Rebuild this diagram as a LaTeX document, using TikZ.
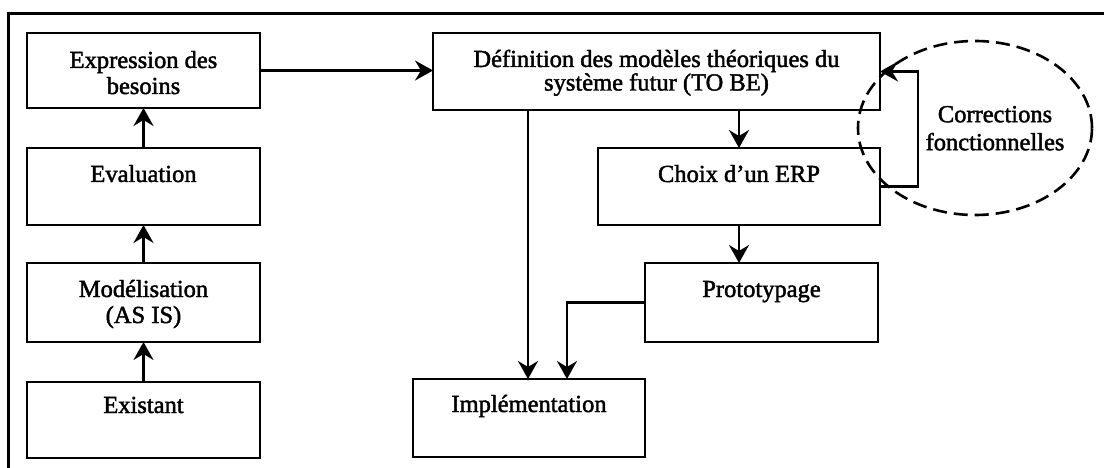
\documentclass[tikz,border=0pt]{standalone}
\usepackage{fontspec}
\setmainfont{Liberation Serif}[FakeBold=1.8]
\usetikzlibrary{arrows.meta,shapes.geometric}
\newcommand\bxt[4]{\parbox[c][#2pt][t]{#1pt}{\centering\rule{0pt}{#3pt}#4\par}}
\begin{document}
\begin{tikzpicture}[x=1pt,y=-1pt,
  box/.style={draw,line width=2.8pt,inner sep=0pt,outer sep=0pt,anchor=north west,
    font=\fontsize{24.5}{26}\selectfont},
  arr/.style={line width=2.3pt,-{Stealth[length=18pt,width=20pt,inset=6pt]}},
  lbl/.style={inner sep=0pt,align=center,font=\fontsize{24.5}{28}\selectfont},
  ]
\useasboundingbox (0,0) rectangle (1104,468);
% frame
\draw[line width=3pt] (8,475) -- (8,14) -- (1110,14);
% left column
\node[box] (exp)  at (27,33)  {\bxt{233}{75}{35}{Expression des\\besoins}};
\node[box] (eval) at (27,148) {\bxt{233}{77}{34}{Evaluation}};
\node[box] (mod)  at (27,263) {\bxt{233}{79}{34}{Modélisation\\(AS IS)}};
\node[box] (exi)  at (27,382) {\bxt{233}{76}{31}{Existant}};
% right part
\node[box,font=\fontsize{24.5}{23.5}\selectfont] (def) at (433,33)
  {\bxt{447}{77}{34}{Définition des modèles théoriques du\\système futur (TO BE)}};
\node[box] (choix) at (598,148) {\bxt{282}{77}{34}{Choix d’un ERP}};
\node[box] (proto) at (645,263) {\bxt{233}{79}{34}{Prototypage}};
\node[box] (impl)  at (413,379) {\bxt{232}{78}{33}{Implémentation}};
% dashed ellipse
\node[ellipse,draw,line width=2.6pt,dash pattern=on 14pt off 7pt,
  minimum width=234pt,minimum height=174pt,inner sep=0pt] (ell) at (975,128) {};
\node[lbl,anchor=north] (corr) at (995,100) {\rule{0pt}{22pt}Corrections\\fonctionnelles};
% connectors
\draw[arr] (exi.north) -- (mod.south);
\draw[arr] (mod.north) -- (eval.south);
\draw[arr] (eval.north) -- (exp.south);
\draw[arr] (exp.east) -- (exp.east -| def.west);
\draw[arr] ([xshift=95pt]def.south west) -- ([xshift=115pt]impl.north west);
\draw[arr] (def.south -| choix.north) -- (choix.north);
\draw[arr] (choix.south) -- (choix.south |- proto.north);
\draw[arr] (proto.west) -| ([xshift=154pt]impl.north west);
\draw[arr] (choix.east) -- ++(38,0) |- (def.east);
\end{tikzpicture}
\end{document}
